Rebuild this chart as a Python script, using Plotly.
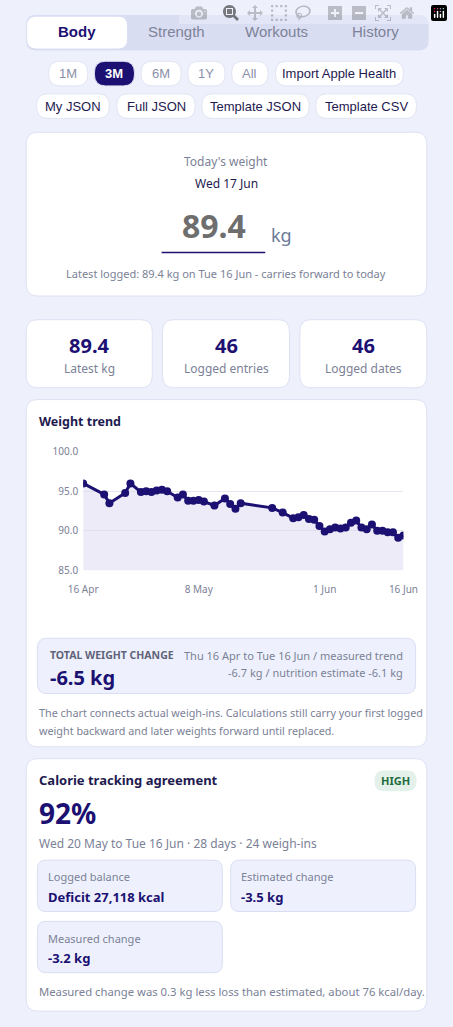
import plotly.graph_objects as go
import pandas as pd

W, H = 453, 1027

# weigh-ins: days after 16 Apr and kg
days = [0, 4, 5, 8, 9, 11, 12, 13, 14, 15, 16, 18, 19, 20, 21, 22, 23, 25, 27, 28,
        29, 30, 36, 38, 40, 41, 42, 43, 44, 45, 46, 47, 48, 49, 50, 51, 52, 53, 54, 55,
        56, 57, 58, 59, 60, 61]
weights = [96.0, 94.6, 93.5, 94.8, 96.0, 94.9, 95.0, 94.9, 95.1, 95.2, 95.0, 94.2, 94.6, 93.8,
           93.8, 93.9, 93.7, 93.2, 94.1, 93.4, 92.8, 93.5, 92.9, 92.3, 91.6, 91.7, 92.0, 91.5,
           91.4, 90.6, 89.9, 90.2, 90.4, 90.3, 90.4, 91.0, 91.3, 90.4, 90.2, 90.8, 90.0, 90.0,
           89.8, 89.8, 89.1, 89.4]
tick_dates = ["2026-04-16", "2026-05-08", "2026-06-01", "2026-06-16"]
tick_labels = ["16 Apr", "8 May", "1 Jun", "16 Jun"]
tabs = ["Body", "Strength", "Workouts", "History"]
stats = [("89.4", "Latest kg"), ("46", "Logged entries"), ("46", "Logged dates")]

dates = pd.Timestamp("2026-04-16") + pd.to_timedelta(days, unit="D")

NAVY = "#1c1172"
GREY = "#7b8196"
FONT = "Noto Sans"

def px(x):
    return x / W

def py(y):
    return 1 - y / H

shapes = []
ann = []

def rrect(x0, y0, x1, y1, r, fill, line="rgba(0,0,0,0)"):
    p = (f"M {px(x0+r)} {py(y0)} L {px(x1-r)} {py(y0)} Q {px(x1)} {py(y0)} {px(x1)} {py(y0+r)} "
         f"L {px(x1)} {py(y1-r)} Q {px(x1)} {py(y1)} {px(x1-r)} {py(y1)} "
         f"L {px(x0+r)} {py(y1)} Q {px(x0)} {py(y1)} {px(x0)} {py(y1-r)} "
         f"L {px(x0)} {py(y0+r)} Q {px(x0)} {py(y0)} {px(x0+r)} {py(y0)} Z")
    shapes.append(dict(type="path", path=p, xref="paper", yref="paper", fillcolor=fill,
                       line=dict(color=line, width=1), layer="below"))

def text(x, y, s, size=12, color=GREY, bold=False, anchor="center", family=FONT):
    if bold:
        s = f"<b>{s}</b>"
    ann.append(dict(x=px(x), y=py(y), xref="paper", yref="paper", text=s, showarrow=False,
                    xanchor=anchor, yanchor="middle", font=dict(size=size, color=color, family=family)))

# tabs
rrect(12, 8, 443, 44, 10, "#d9ddf2")
rrect(13, 10, 120, 42, 9, "white")
for t, cx in zip(tabs, [66, 173, 280, 386]):
    text(cx, 25, t, 15, NAVY if t == "Body" else "#7e8399", bold=(t == "Body"), family="Liberation Sans")

# pills
row1 = [("1M", 36, 78), ("3M", 85, 128), ("6M", 135, 178), ("1Y", 185, 225), ("All", 232, 271),
        ("Import Apple Health", 279, 416)]
for lab, a, b in row1:
    sel = lab == "3M"
    rrect(a, 55, b, 80, 12, NAVY if sel else "white", "#e1e4f3")
    col = "white" if sel else ("#1e1a50" if lab.startswith("Import") else "#8a8fa8")
    text((a + b) / 2, 67.5, lab, 13, col, bold=sel, family="Liberation Sans")
row2 = [("My JSON", 23, 101), ("Full JSON", 109, 193), ("Template JSON", 200, 315), ("Template CSV", 322, 430)]
for lab, a, b in row2:
    rrect(a, 88, b, 113, 12, "white", "#e1e4f3")
    text((a + b) / 2, 100.5, lab, 13, "#1e1a50", family="Liberation Sans")

# today card
rrect(12, 127, 441, 293, 12, "white", "#dde1f3")
text(226, 157, "Today's weight", 12, GREY)
text(226, 179, "Wed 17 Jun", 12, "#1e1a50")
text(213, 222, "89.4", 32, "#6e6e6e", bold=True)
shapes.append(dict(type="line", xref="paper", yref="paper", x0=px(157), x1=px(268), y0=py(249), y1=py(249),
                   line=dict(color=NAVY, width=1.5)))
text(285, 231, "kg", 18, "#6b7a99")
text(226, 270, "Latest logged: 89.4 kg on Tue 16 Jun - carries forward to today", 11, GREY)

# stat cards
for (v, lab), (a, b) in zip(stats, [(12, 147), (158, 294), (305, 441)]):
    rrect(a, 317, b, 386, 12, "white", "#dde1f3")
    text((a + b) / 2, 343, v, 20, NAVY, bold=True)
    text((a + b) / 2, 366, lab, 12, GREY)

# chart card
rrect(12, 398, 441, 750, 12, "white", "#dde1f3")
text(24, 420, "Weight trend", 12.5, "#1e1a50", bold=True, anchor="left")
rrect(24, 640, 429, 696, 10, "#eef1fd", "#d9def3")
text(35, 657, "TOTAL WEIGHT CHANGE", 10.5, "#5f6378", bold=True, anchor="left")
text(35, 680, "-6.5 kg", 20, NAVY, bold=True, anchor="left")
text(418, 657, "Thu 16 Apr to Tue 16 Jun / measured trend", 11, GREY, anchor="right")
text(418, 675, "-6.7 kg / nutrition estimate -6.1 kg", 11, GREY, anchor="right")
text(24, 715, "The chart connects actual weigh-ins. Calculations still carry your first logged", 10.8, GREY, anchor="left")
text(24, 733, "weight backward and later weights forward until replaced.", 10.8, GREY, anchor="left")

# calorie card
rrect(12, 762, 441, 1018, 12, "white", "#dde1f3")
text(24, 784, "Calorie tracking agreement", 13, "#1e1a50", bold=True, anchor="left")
rrect(385, 774, 430, 795, 10, "#e3f1ea")
text(407.5, 784.5, "HIGH", 11, "#1f6b3c", bold=True)
text(24, 817, "92%", 28, NAVY, bold=True, anchor="left")
text(24, 848, "Wed 20 May to Tue 16 Jun · 28 days · 24 weigh-ins", 12, GREY, anchor="left")
boxes = [(24, 865, 222, 917, "Logged balance", "Deficit 27,118 kcal"),
         (231, 865, 429, 917, "Estimated change", "-3.5 kg"),
         (24, 927, 222, 979, "Measured change", "-3.2 kg")]
for a, t, b, bt, lab, val in boxes:
    rrect(a, t, b, bt, 9, "#eef1fd", "#d9def3")
    text(a + 9, t + 17, lab, 11, GREY, anchor="left")
    text(a + 9, t + 37, val, 13, NAVY, bold=True, anchor="left")
text(24, 998, "Measured change was 0.3 kg less loss than estimated, about 76 kcal/day.", 11.3, GREY, anchor="left")

fig = go.Figure(go.Scatter(x=dates, y=weights, mode="lines+markers", fill="tozeroy",
                           fillcolor="rgba(220,218,240,0.55)",
                           line=dict(color=NAVY, width=3), marker=dict(size=8, color=NAVY)))
fig.update_layout(
    width=W, height=H, margin=dict(l=0, r=0, t=0, b=0),
    paper_bgcolor="#eef0fc", plot_bgcolor="rgba(0,0,0,0)", showlegend=False,
    shapes=shapes, annotations=ann, font=dict(family=FONT),
    xaxis=dict(domain=[px(73), px(416)], range=["2026-04-16", "2026-06-16"], tickvals=tick_dates,
               ticktext=tick_labels, showgrid=False, zeroline=False, ticks="", ticklen=0,
               ticklabelstandoff=12, tickfont=dict(size=10, color=GREY)),
    yaxis=dict(domain=[py(571), py(451)], range=[85, 100], tickvals=[85, 90, 95, 100],
               tickformat=".1f", gridcolor="#e4e5ee", zeroline=False, ticklabelstandoff=4,
               tickfont=dict(size=10, color=GREY)),
)
fig.write_html("out.html", post_script="document.body.style.margin='0';document.body.style.overflow='hidden';")
